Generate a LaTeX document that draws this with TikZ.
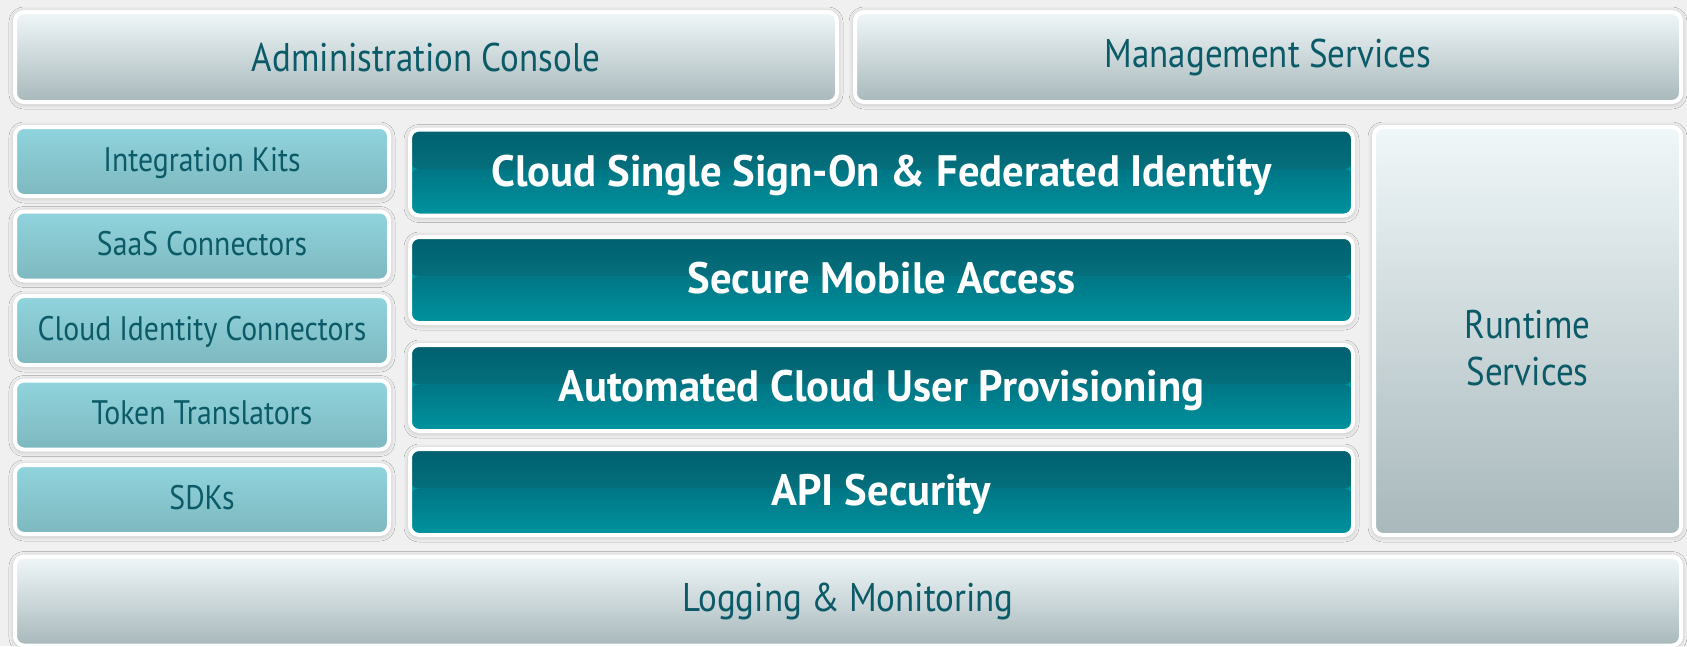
\documentclass[tikz,border=0pt]{standalone}
\usepackage{fontspec}
\setmainfont{PT Sans}
\newfontfamily\lab[FakeStretch=0.875]{PT Sans}
\newfontfamily\labb[FakeStretch=0.97]{PT Sans Bold}
\usetikzlibrary{shadows.blur,calc}
\definecolor{bgc}{HTML}{F0F0F0}
\definecolor{txt}{HTML}{0B5A68}
\definecolor{gtop}{HTML}{F0F7F9}
\definecolor{gbot}{HTML}{A8B8BB}
\definecolor{ltop}{HTML}{90D4DD}
\definecolor{lbot}{HTML}{7EB8BF}
\definecolor{dA}{HTML}{00606F}
\definecolor{dB}{HTML}{0B808B}
\definecolor{dC}{HTML}{007685}
\definecolor{dD}{HTML}{00939F}
\tikzset{
  box/.style={rounded corners=9pt, draw=white, line width=4pt, inner sep=0pt,
    blur shadow={shadow xshift=0pt, shadow yshift=-1pt, shadow blur radius=6pt, shadow opacity=30},
    font=\lab, text=txt, align=center},
  bigtext/.style={font=\lab\fontsize{40}{47}\selectfont, text=txt, align=center},
  greybox/.style={box, top color=gtop, bottom color=gbot, bigtext},
  lbox/.style={box, top color=ltop, bottom color=lbot, minimum width=374pt, minimum height=69pt,
    font=\lab\fontsize{34}{39}\selectfont, text height=27pt, text depth=8pt},
  dbox/.style={box, fill=dD, minimum width=943pt, minimum height=86pt, text=white,
    font=\labb\fontsize{44}{50}\selectfont, text height=37pt, text depth=10pt,
    path picture={
      \shade[top color=dA, bottom color=dB]
        (path picture bounding box.north west) rectangle
        ($(path picture bounding box.north east)!0.46!(path picture bounding box.south east)$);
      \shade[top color=dC, bottom color=dD]
        ($(path picture bounding box.north west)!0.46!(path picture bounding box.south west)$) rectangle
        (path picture bounding box.south east);
    }},
}
\begin{document}
\begin{tikzpicture}[x=1pt,y=-1pt]
\fill[bgc] (0,0) rectangle (1687,646);
\useasboundingbox (0,0) rectangle (1687,646);

\node[greybox, minimum width=822pt, minimum height=90pt] (admin) at (426,57) {Administration Console};
\node[greybox, minimum width=826pt, minimum height=90pt] (mgmt) at (1268,57) {Management Services};

\node[lbox] (ik) at (202,161.5) {Integration Kits};
\node[lbox] (saas) at (202,246) {SaaS Connectors};
\node[lbox] (cic) at (202,330.5) {Cloud Identity Connectors};
\node[lbox] (tt) at (202,415) {Token Translators};
\node[lbox] (sdk) at (202,499.5) {SDKs};

\node[dbox] (sso) at (881.5,172.5) {Cloud Single Sign-On \& Federated Identity};
\node[dbox] (sma) at (881.5,280) {Secure Mobile Access};
\node[dbox] (acup) at (881.5,388) {Automated Cloud User Provisioning};
\node[dbox] (api) at (881.5,492) {API Security};

\node[greybox, minimum width=307pt, minimum height=408pt] (rt) at (1527.5,331) {};
\node[bigtext] (rtlabel) at (1527.5,348) {Runtime\\Services};

\node[greybox, minimum width=1666pt, minimum height=89pt] (log) at (848,601) {Logging \& Monitoring};
\end{tikzpicture}
\end{document}
